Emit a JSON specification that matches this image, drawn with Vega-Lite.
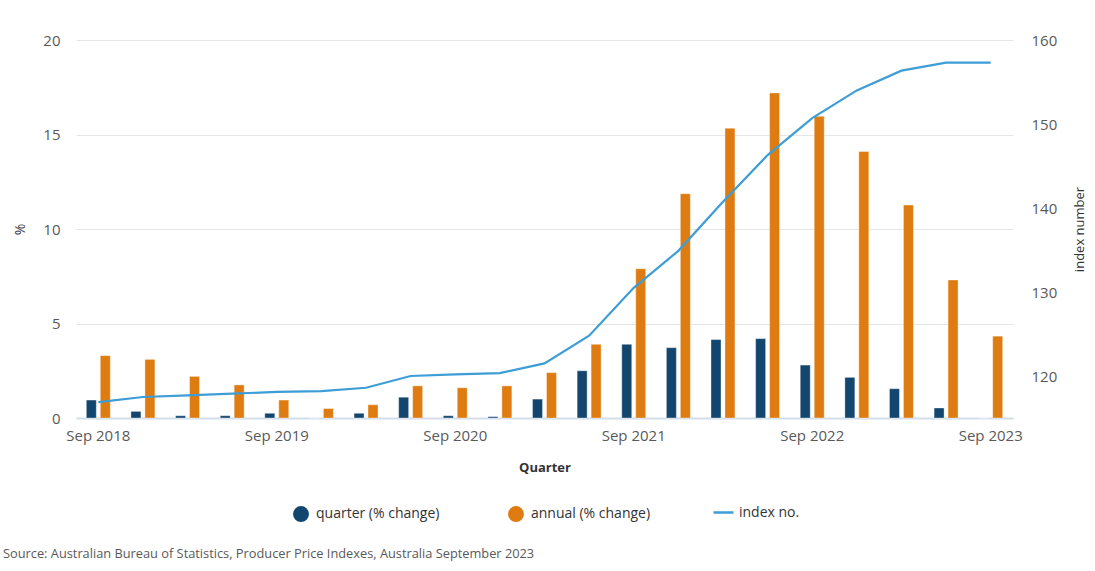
{
  "$schema": "https://vega.github.io/schema/vega-lite/v6.json",
  "width": 937,
  "height": 378,
  "autosize": "none",
  "padding": {"left": 76, "top": 40, "right": 82, "bottom": 153},
  "config": {
    "view": {"stroke": null},
    "font": "Open Sans",
    "legend": {"padding": 0}
  },
  "title": {
    "text": "Source: Australian Bureau of Statistics, Producer Price Indexes, Australia September 2023",
    "orient": "top",
    "anchor": "start",
    "frame": "group",
    "baseline": "bottom",
    "dx": -73,
    "dy": 545,
    "fontSize": 12.8,
    "fontWeight": "normal",
    "color": "#595959",
    "font": "Open Sans"
  },
  "data": {
    "values": [
      {"quarter": "Sep 2018", "quarter (% change)": 0.95, "annual (% change)": 3.3, "index": 116.9},
      {"quarter": "Dec 2018", "quarter (% change)": 0.35, "annual (% change)": 3.1, "index": 117.5},
      {"quarter": "Mar 2019", "quarter (% change)": 0.12, "annual (% change)": 2.2, "index": 117.7},
      {"quarter": "Jun 2019", "quarter (% change)": 0.12, "annual (% change)": 1.75, "index": 117.9},
      {"quarter": "Sep 2019", "quarter (% change)": 0.25, "annual (% change)": 0.95, "index": 118.1},
      {"quarter": "Dec 2019", "quarter (% change)": 0.0, "annual (% change)": 0.5, "index": 118.2},
      {"quarter": "Mar 2020", "quarter (% change)": 0.25, "annual (% change)": 0.7, "index": 118.6},
      {"quarter": "Jun 2020", "quarter (% change)": 1.1, "annual (% change)": 1.7, "index": 120.0},
      {"quarter": "Sep 2020", "quarter (% change)": 0.12, "annual (% change)": 1.6, "index": 120.2},
      {"quarter": "Dec 2020", "quarter (% change)": 0.07, "annual (% change)": 1.7, "index": 120.35},
      {"quarter": "Mar 2021", "quarter (% change)": 1.0, "annual (% change)": 2.4, "index": 121.5},
      {"quarter": "Jun 2021", "quarter (% change)": 2.5, "annual (% change)": 3.9, "index": 124.8},
      {"quarter": "Sep 2021", "quarter (% change)": 3.9, "annual (% change)": 7.9, "index": 130.5},
      {"quarter": "Dec 2021", "quarter (% change)": 3.72, "annual (% change)": 11.87, "index": 134.9},
      {"quarter": "Mar 2022", "quarter (% change)": 4.15, "annual (% change)": 15.33, "index": 140.75},
      {"quarter": "Jun 2022", "quarter (% change)": 4.2, "annual (% change)": 17.2, "index": 146.3},
      {"quarter": "Sep 2022", "quarter (% change)": 2.8, "annual (% change)": 15.96, "index": 150.7},
      {"quarter": "Dec 2022", "quarter (% change)": 2.15, "annual (% change)": 14.1, "index": 154.0},
      {"quarter": "Mar 2023", "quarter (% change)": 1.55, "annual (% change)": 11.27, "index": 156.35},
      {"quarter": "Jun 2023", "quarter (% change)": 0.53, "annual (% change)": 7.3, "index": 157.3},
      {"quarter": "Sep 2023", "quarter (% change)": 0.0, "annual (% change)": 4.33, "index": 157.3}
    ]
  },
  "encoding": {
    "x": {
      "field": "quarter",
      "type": "nominal",
      "sort": null,
      "scale": {"paddingInner": 0, "paddingOuter": 0},
      "axis": {
        "title": "Quarter",
        "titleFontSize": 13,
        "titleFontWeight": "bold",
        "titleColor": "#333333",
        "titlePadding": 18,
        "values": ["Sep 2018", "Sep 2019", "Sep 2020", "Sep 2021", "Sep 2022", "Sep 2023"],
        "labelAngle": 0,
        "labelFontSize": 15,
        "labelColor": "#595959",
        "labelPadding": 10,
        "ticks": false,
        "domainColor": "#d3deeb",
        "domainWidth": 2,
        "grid": false
      }
    }
  },
  "layer": [
    {
      "transform": [
        {"fold": ["quarter (% change)", "annual (% change)"], "as": ["series", "value"]}
      ],
      "mark": {"type": "bar", "stroke": "#ffffff", "strokeWidth": 0.6, "strokeOpacity": 0.6},
      "encoding": {
        "xOffset": {
          "field": "series",
          "type": "nominal",
          "scale": {"domain": ["quarter (% change)", "annual (% change)"], "paddingInner": 0.2857, "paddingOuter": 0.74}
        },
        "y": {
          "field": "value",
          "type": "quantitative",
          "scale": {"domain": [0, 20], "nice": false},
          "axis": {
            "title": "%",
            "titleFontSize": 14,
            "titleFontWeight": "normal",
            "titleColor": "#333333",
            "titlePadding": 15,
            "values": [0, 5, 10, 15, 20],
            "labelFontSize": 15,
            "labelColor": "#595959",
            "labelPadding": 16,
            "ticks": false,
            "domain": false,
            "grid": true,
            "gridColor": "#e6e6e6",
            "gridWidth": 1
          }
        },
        "color": {
          "field": "series",
          "type": "nominal",
          "scale": {"domain": ["quarter (% change)", "annual (% change)"], "range": ["#13466f", "#df7c11"]},
          "legend": {
            "title": null,
            "orient": "none",
            "legendX": 217,
            "legendY": 466,
            "direction": "horizontal",
            "symbolType": "circle",
            "symbolSize": 254,
            "symbolStrokeWidth": 0,
            "labelFontSize": 14,
            "labelColor": "#333333",
            "labelOffset": 7,
            "columnPadding": 68
          }
        }
      }
    },
    {
      "mark": {"type": "line", "strokeWidth": 2.2},
      "encoding": {
        "y": {
          "field": "index",
          "type": "quantitative",
          "scale": {"domain": [115, 160], "nice": false, "zero": false},
          "axis": {
            "orient": "right",
            "title": "index number",
            "titleAngle": -90,
            "titleFontSize": 13,
            "titleFontWeight": "normal",
            "titleColor": "#333333",
            "titlePadding": 30,
            "values": [120, 130, 140, 150, 160],
            "labelFontSize": 15,
            "labelColor": "#595959",
            "labelPadding": 18,
            "ticks": false,
            "domain": false,
            "grid": false
          }
        },
        "stroke": {
          "datum": "index no.",
          "type": "nominal",
          "scale": {"domain": ["index no."], "range": ["#3d9dd6"]},
          "legend": {
            "title": null,
            "orient": "none",
            "legendX": 636,
            "legendY": 461,
            "symbolType": "stroke",
            "symbolSize": 400,
            "symbolStrokeWidth": 2.5,
            "labelFontSize": 14,
            "labelColor": "#333333",
            "labelOffset": 4
          }
        }
      }
    }
  ],
  "resolve": {"scale": {"y": "independent"}}
}
